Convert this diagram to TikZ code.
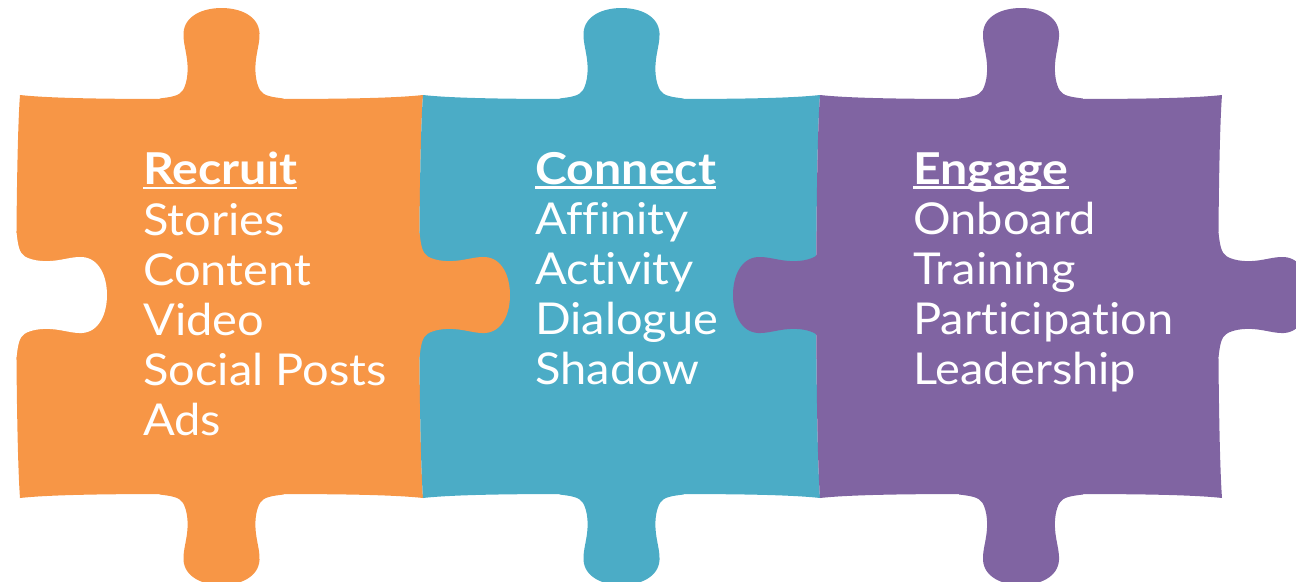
\documentclass[tikz,border=0pt]{standalone}
\usepackage{fontspec}
\setmainfont{Lato}[Ligatures=NoCommon, FakeStretch=1.07, BoldFeatures={FakeStretch=1.1}]
\usepackage{tikz}
\usetikzlibrary{positioning}
\definecolor{recruitcol}{HTML}{F79646}
\definecolor{connectcol}{HTML}{4BACC6}
\definecolor{engagecol}{HTML}{8064A2}
% underlined heading
\newcommand{\hdr}[1]{\setbox0\hbox{\bfseries #1}\rlap{\rule[-2.6pt]{\wd0}{1.7pt}}\box0}
\tikzset{
  tab/.pic={
    \fill[pic actions] (-62,12) -- (-62,3.5)
      .. controls (-50,2) and (-42,1) .. (-38.5,-5)
      .. controls (-35,-11) and (-33.5,-20) .. (-34,-30)
      .. controls (-34.5,-42) and (-38.5,-52) .. (-38,-62)
      .. controls (-37,-79) and (-19,-87) .. (0,-87)
      .. controls (19,-87) and (37,-79) .. (38,-62)
      .. controls (38.5,-52) and (34.5,-42) .. (34,-30)
      .. controls (33.5,-20) and (35,-11) .. (38.5,-5)
      .. controls (42,1) and (50,2) .. (62,3.5)
      -- (62,12) -- cycle;
  }
}
\begin{document}
\begin{tikzpicture}[
    x=0.02cm, y=-0.02cm,
    item/.style={text=white, align=left, inner sep=0pt, anchor=north west,
      font=\fontsize{25}{28.5}\selectfont}
]
    \useasboundingbox (0,0) rectangle (1296,582);

    % Pieces - bodies with top and bottom tabs
    \foreach \xa/\xb/\col in {20/423/recruitcol, 423/820/connectcol, 820/1222/engagecol}{
      \pgfmathsetmacro{\cx}{(\xa+\xb)/2}
      \fill[\col] (\xa,95) .. controls (\xa+40,99.5) and (\cx-70,99) .. (\cx,99)
        .. controls (\cx+70,99) and (\xb-40,99.5) .. (\xb,95)
        .. controls (\xb-5,160) and (\xb-5,430) .. (\xb,498)
        .. controls (\xb-40,493.5) and (\cx+70,494) .. (\cx,494)
        .. controls (\cx-70,494) and (\xa+40,493.5) .. (\xa,498)
        .. controls (\xa-5,430) and (\xa-5,160) .. (\xa,95) -- cycle;
      \pic[fill=\col] at (\cx,95) {tab};
      \pic[fill=\col, rotate=180] at (\cx,498) {tab};
    }

    % Side tabs and socket
    \pic[fill=recruitcol, rotate=-90] at (423,295) {tab};
    \pic[fill=engagecol, rotate=90] at (820,295) {tab};
    \pic[fill=engagecol, rotate=-90] at (1222,295) {tab};
    \pic[fill=white, rotate=-90] at (20,295) {tab};

    % Texts
    \node[item] (recruit) at (143,152) {\hdr{Recruit}\\Stories\\Content\\Video\\Social Posts\\Ads};
    \node[item] (connect) at (535,152) {\hdr{Connect}\\Affinity\\Activity\\Dialogue\\Shadow};
    \node[item] (engage) at (913,152) {\hdr{Engage}\\Onboard\\Training\\Participation\\Leadership};
\end{tikzpicture}
\end{document}
